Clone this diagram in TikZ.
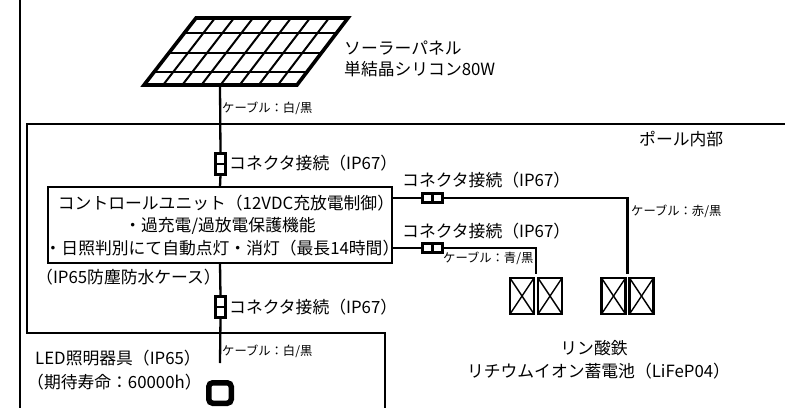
\documentclass[tikz,border=0pt]{standalone}
\usepackage{fontspec}
\setmainfont{Noto Sans CJK JP}
\usetikzlibrary{calc,positioning}
\tikzstyle{wire} = [line width=2.3pt,black]
\tikzstyle{frameline} = [line width=2.3pt,black]
\tikzstyle{lbl} = [anchor=west,inner sep=0pt,font=\fontsize{16.8pt}{16.8pt}\selectfont]
\tikzstyle{lblmid} = [inner sep=0pt,font=\fontsize{16.8pt}{16.8pt}\selectfont]
\tikzstyle{cablelbl} = [anchor=west,inner sep=0pt,font=\fontsize{12.3pt}{12.3pt}\selectfont]
\tikzstyle{ctrlbox} = [rectangle,draw=black,line width=2.3pt,minimum width=344pt,minimum height=76pt,inner sep=0pt,outer sep=0pt]
\tikzstyle{connv} = [rectangle,draw=black,line width=2.3pt,minimum width=10pt,minimum height=21pt,inner sep=0pt,outer sep=0pt]
\tikzstyle{connh} = [rectangle,draw=black,line width=2.3pt,minimum width=20pt,minimum height=9pt,inner sep=0pt,outer sep=0pt]
\tikzstyle{cell} = [rectangle,draw=black,line width=2.3pt,minimum width=24pt,minimum height=36pt,inner sep=0pt,outer sep=0pt]

\begin{document}
\begin{tikzpicture}[x=1pt,y=-1pt]
\useasboundingbox (0,0) rectangle (785,408);

% frames
\draw[frameline] (20,0)--(20,408);
\draw[frameline] (785,124)--(27,124)--(27,333)--(385,333)--(385,408);

% solar panel
\coordinate (pnw) at (196,18);
\coordinate (pne) at (348,18);
\coordinate (pse) at (297,85);
\coordinate (psw) at (144,85);
\coordinate (pcable) at (220,85);
\foreach \i in {1,...,7}
{
	\draw[line width=2pt] ($(pnw)!\i/8!(pne)$)--($(psw)!\i/8!(pse)$);
}
\foreach \t in {0.22,0.52,0.81}
{
	\draw[line width=2pt] ($(pnw)!\t!(psw)$)--($(pne)!\t!(pse)$);
}
\draw[line width=3.6pt,line join=miter] (pnw)--(pne)--(pse)--(psw)--cycle;

% nodes
\node (ctrl) [ctrlbox] at (220,225) {};
\node (conn1) [connv] at (220.5,164) {};
\node (conn2) [connh] at (432.5,198) {};
\node (conn3) [connh] at (432.5,248) {};
\node (conn4) [connv] at (220.5,307) {};
\node (bat1) [cell] at (522,296) {};
\node (bat2) [cell,right=4pt of bat1] {};
\node (bat3) [cell] at (613.5,296) {};
\node (bat4) [cell,right=4pt of bat3] {};
\coordinate (ledtop) at (220,363);
\coordinate (ctrlr1) at (393,198);
\coordinate (ctrlr2) at (393,248);
\coordinate (bat12) at ($(bat1.north east)!0.5!(bat2.north west)+(0,-4)$);
\coordinate (bat34) at ($(bat3.north east)!0.5!(bat4.north west)+(0,-4)$);

\foreach \i in {1,2,3,4}
{
	\draw[line width=1.4pt] (bat\i.north west)--(bat\i.south east);
	\draw[line width=1.4pt] (bat\i.north east)--(bat\i.south west);
}
\draw[wire] (conn1.west)--(conn1.east);
\draw[wire] (conn4.west)--(conn4.east);
\draw[wire] (conn2.north)--(conn2.south);
\draw[wire] (conn3.north)--(conn3.south);

% cables
\draw[wire] (pcable)--(conn1.north);
\draw[wire] (conn1.south)--(ctrl.north);
\draw[wire] (ctrl.south)--(conn4.north);
\draw[wire] (conn4.south)--(ledtop);
\draw[wire] (ctrlr1)--(conn2.west);
\draw[wire] (ctrlr2)--(conn3.west);
\draw[wire] (conn2.east)-|(bat34);
\draw[wire] (conn3.east)-|(bat12);

% LED lamp
\node (led) [rectangle,rounded corners=4pt,draw=black,line width=5.5pt,minimum width=22.5pt,minimum height=20.5pt,inner sep=0pt] at (220,393) {};

% labels
\node (lsolar1) [lbl] at (344,48) {ソーラーパネル};
\node (lsolar2) [lbl] at (344,69) {単結晶シリコン80W};
\node (lcable1) [cablelbl] at (222,108) {ケーブル：白/黒};
\node (lpole) [lbl] at (639,139) {ポール内部};
\node (lconn1) [lbl] at (229,163) {コネクタ接続（IP67）};
\node (lconn2) [lbl] at (402,180) {コネクタ接続（IP67）};
\node (lconn3) [lbl] at (402,231) {コネクタ接続（IP67）};
\node (lconn4) [lbl] at (229,307) {コネクタ接続（IP67）};
\node (lctrl1) [lblmid] at (226,203) {コントロールユニット（12VDC充放電制御）};
\node (lctrl2) [lblmid] at (220,226) {・過充電/過放電保護機能};
\node (lctrl3) [lblmid] at (222,248) {・日照判別にて自動点灯・消灯（最長14時間）};
\node (lcase) [lbl] at (36,277) {（IP65防塵防水ケース）};
\node (lcable2) [cablelbl] at (631,211) {ケーブル：赤/黒};
\node (lcable3) [cablelbl] at (443,258) {ケーブル：青/黒};
\node (lcable4) [cablelbl] at (222,351) {ケーブル：白/黒};
\node (lled1) [lbl] at (35,358) {LED照明器具（IP65）};
\node (lled2) [lbl] at (27,382) {（期待寿命：60000h）};
\node (lbat1) [lblmid] at (594,348) {リン酸鉄};
\node (lbat2) [lblmid] at (598.5,371) {リチウムイオン蓄電池（LiFeP04）};
\end{tikzpicture}
\end{document}
